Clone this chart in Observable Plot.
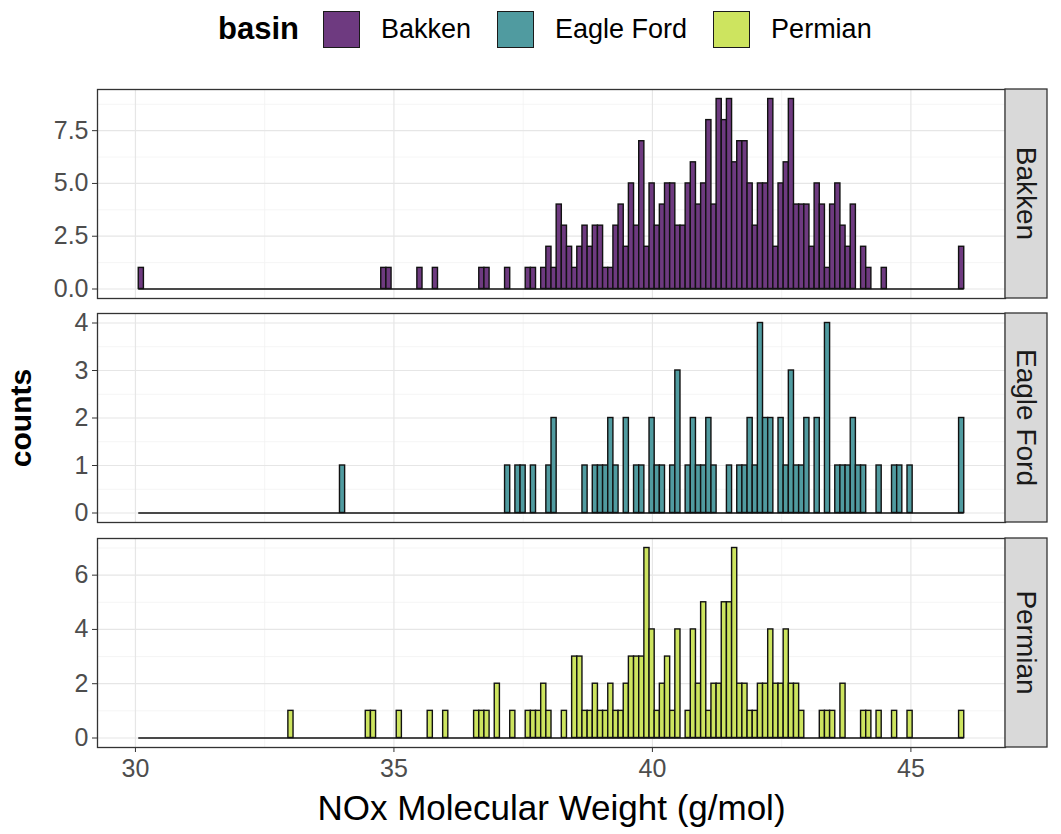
<!DOCTYPE html>
<html>
<head>
<meta charset="utf-8">
<script src="https://cdn.jsdelivr.net/npm/d3@7"></script>
<script src="https://cdn.jsdelivr.net/npm/@observablehq/plot@0.6"></script>
<style>
  body { margin: 0; background: #fff; font-family: "Liberation Sans", Arial, sans-serif; }
  #chart { position: relative; width: 1061px; height: 834px; overflow: hidden; }
  #legend { position: absolute; top: 10px; left: 218px; height: 38px; display: flex; align-items: center; white-space: nowrap; }
  #legend .title { font-size: 31px; font-weight: bold; color: #000; margin-right: 24px; }
  #legend .key { width: 37px; height: 37px; box-sizing: border-box; border: 1.6px solid #1a1a1a; margin-right: 21px; }
  #legend .lab { font-size: 27px; color: #000; margin-right: 26px; }
  #ylabel { position: absolute; left: 21px; top: 418px; transform: translate(-50%, -50%) rotate(-90deg); font-size: 30px; font-weight: bold; color: #000; white-space: nowrap; }
</style>
</head>
<body>
<div id="chart">
  <div id="legend"></div>
  <div id="ylabel"></div>
</div>
<script>
// Histogram of NOx molecular weight, one panel per basin (160 shared bins).
const basins = ["Bakken", "Eagle Ford", "Permian"];
const basinColors = ["#6E3A80", "#509BA0", "#CDE45F"];

// Shared bin layout: left edge of the first bin and bin width (g/mol)
const binStart = 30.064;
const binWidth = 0.0998;
const binCount = 160;

// Counts per bin
const bakkenCounts = [
  1,0,0,0,0,0,0,0,0,0, 0,0,0,0,0,0,0,0,0,0,
  0,0,0,0,0,0,0,0,0,0, 0,0,0,0,0,0,0,0,0,0,
  0,0,0,0,0,0,0,1,1,0, 0,0,0,0,1,0,0,1,0,0,
  0,0,0,0,0,0,1,1,0,0, 0,1,0,0,0,1,1,0,1,2,
  1,4,3,2,1,2,3,2,3,3, 1,1,3,4,2,5,3,7,2,5,
  3,4,5,5,3,3,5,6,4,5, 8,4,9,8,9,6,7,7,5,3,
  5,5,9,2,5,6,9,4,4,4, 2,5,4,1,4,5,3,2,4,0,
  2,1,0,0,1,0,0,0,0,0, 0,0,0,0,0,0,0,0,0,2
];
const eagleFordCounts = [
  0,0,0,0,0,0,0,0,0,0, 0,0,0,0,0,0,0,0,0,0,
  0,0,0,0,0,0,0,0,0,0, 0,0,0,0,0,0,0,0,0,1,
  0,0,0,0,0,0,0,0,0,0, 0,0,0,0,0,0,0,0,0,0,
  0,0,0,0,0,0,0,0,0,0, 0,1,0,1,1,0,1,0,0,1,
  2,0,0,0,0,0,1,0,1,1, 1,2,1,0,2,0,1,1,0,2,
  1,1,0,1,3,0,1,2,1,1, 2,1,0,0,1,0,1,1,2,1,
  4,2,2,0,2,1,3,1,1,2, 0,2,0,4,0,1,1,1,2,1,
  1,0,0,1,0,0,1,1,0,1, 0,0,0,0,0,0,0,0,0,2
];
const permianCounts = [
  0,0,0,0,0,0,0,0,0,0, 0,0,0,0,0,0,0,0,0,0,
  0,0,0,0,0,0,0,0,0,1, 0,0,0,0,0,0,0,0,0,0,
  0,0,0,0,1,1,0,0,0,0, 1,0,0,0,0,0,1,0,0,1,
  0,0,0,0,0,1,1,1,0,2, 0,0,1,0,0,1,1,1,2,1,
  0,0,1,0,3,3,1,1,2,1, 1,2,1,1,2,3,3,3,7,4,
  1,2,3,1,4,0,1,4,2,5, 1,2,2,5,5,7,2,2,1,1,
  2,2,4,2,2,4,2,2,1,0, 0,0,1,1,1,0,2,0,0,0,
  1,1,0,1,0,0,1,0,0,1, 0,0,0,0,0,0,0,0,0,1
];

// Axis ticks
const xTicks = [30, 35, 40, 45];
const xMinorTicks = [32.5, 37.5, 42.5];
const bakkenTicks = [0, 2.5, 5, 7.5];
const bakkenMinor = [1.25, 3.75, 6.25, 8.75];
const eagleFordTicks = [0, 1, 2, 3, 4];
const eagleFordMinor = [0.5, 1.5, 2.5, 3.5];
const permianTicks = [0, 2, 4, 6];
const permianMinor = [1, 3, 5, 7];

const xTitle = "NOx Molecular Weight (g/mol)";
const yTitle = "counts";
const legendTitle = "basin";

const xDomain = [29.266, 46.83];
const font = "'Liberation Sans', Arial, sans-serif";
const panelH = 209;

const panels = [
  {name: basins[0], counts: bakkenCounts, color: basinColors[0], domain: [-0.45, 9.45], ticks: bakkenTicks, minor: bakkenMinor, fmt: d3.format(".1f"), top: 89},
  {name: basins[1], counts: eagleFordCounts, color: basinColors[1], domain: [-0.2, 4.2], ticks: eagleFordTicks, minor: eagleFordMinor, fmt: d3.format("d"), top: 313},
  {name: basins[2], counts: permianCounts, color: basinColors[2], domain: [-0.35, 7.35], ticks: permianTicks, minor: permianMinor, fmt: d3.format("d"), top: 538}
];

const chart = document.getElementById("chart");

panels.forEach((p, k) => {
  const last = k === panels.length - 1;
  const bins = p.counts.map((c, i) => ({
    x1: binStart + i * binWidth,
    x2: binStart + (i + 1) * binWidth,
    count: c
  }));
  const filled = bins.filter(d => d.count > 0);
  const mt = 2, mb = last ? 96 : 2;
  const svg = Plot.plot({
    width: 1061,
    height: mt + panelH + mb,
    marginLeft: 97,
    marginRight: 56,
    marginTop: mt,
    marginBottom: mb,
    style: {fontFamily: font, background: "transparent", overflow: "visible"},
    x: {domain: xDomain, label: null, axis: last ? undefined : null},
    y: {domain: p.domain, label: null},
    marks: [
      Plot.gridX(xMinorTicks, {stroke: "#F2F2F2", strokeOpacity: 1, strokeWidth: 0.8}),
      Plot.gridY(p.minor, {stroke: "#F2F2F2", strokeOpacity: 1, strokeWidth: 0.8}),
      Plot.gridX(xTicks, {stroke: "#E6E6E6", strokeOpacity: 1, strokeWidth: 1.2}),
      Plot.gridY(p.ticks, {stroke: "#E6E6E6", strokeOpacity: 1, strokeWidth: 1.2}),
      // empty bins collapse to a line along zero
      Plot.ruleY([0], {x1: bins[0].x1, x2: bins[binCount - 1].x2, stroke: "#111", strokeWidth: 1.5}),
      Plot.rectY(filled, {x1: "x1", x2: "x2", y1: 0, y2: "count", fill: p.color, stroke: "#111", strokeWidth: 1.4, inset: 0}),
      Plot.frame({stroke: "#333", strokeWidth: 1.3}),
      Plot.axisY(p.ticks, {tickSize: 5, tickPadding: 4, fontSize: 25, stroke: "#333", fill: "#4D4D4D", tickFormat: p.fmt, label: null}),
      last ? Plot.axisX(xTicks, {tickSize: 5, tickPadding: 7, fontSize: 25, stroke: "#333", fill: "#4D4D4D", label: null}) : null,
      last ? Plot.text([xTitle], {frameAnchor: "bottom", dy: 61, fontSize: 35, fill: "#000", lineAnchor: "middle"}) : null
    ]
  });
  // facet strip to the right of the panel
  const s = d3.select(svg);
  s.append("rect")
    .attr("x", 1005).attr("y", mt)
    .attr("width", 42).attr("height", panelH)
    .attr("fill", "#D9D9D9").attr("stroke", "#333").attr("stroke-width", 1.3);
  s.append("text")
    .attr("transform", `translate(${1026},${mt + panelH / 2}) rotate(90)`)
    .attr("text-anchor", "middle").attr("dominant-baseline", "central")
    .attr("font-size", 28).attr("fill", "#1A1A1A").attr("font-family", font)
    .text(p.name);
  svg.style.position = "absolute";
  svg.style.left = "0px";
  svg.style.top = (p.top - mt) + "px";
  chart.appendChild(svg);
});

// legend
const legend = document.getElementById("legend");
const t = document.createElement("span");
t.className = "title"; t.textContent = legendTitle;
legend.appendChild(t);
basins.forEach((b, i) => {
  const key = document.createElement("span");
  key.className = "key"; key.style.background = basinColors[i];
  const lab = document.createElement("span");
  lab.className = "lab"; lab.textContent = b;
  legend.appendChild(key); legend.appendChild(lab);
});
document.getElementById("ylabel").textContent = yTitle;
</script>
</body>
</html>
